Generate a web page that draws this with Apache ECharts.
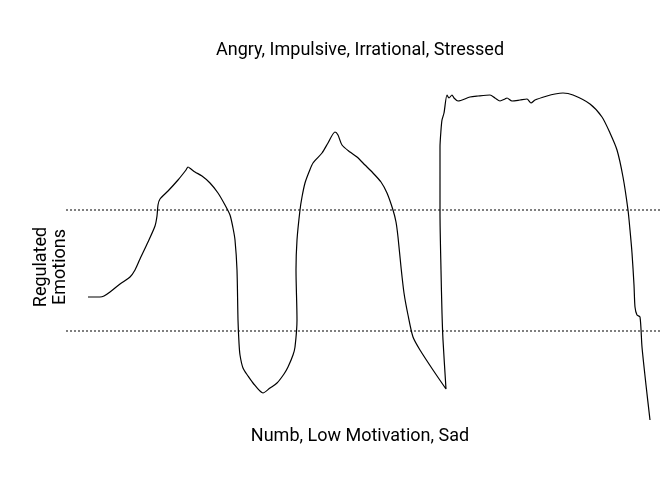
<!DOCTYPE html>
<html>
<head>
<meta charset="UTF-8">
<title>Emotions</title>
<script type="text/javascript" src="https://cdn.jsdelivr.net/npm/echarts@6/dist/echarts.min.js"></script>
<style>
  html, body { margin: 0; padding: 0; background: #fff; }
</style>
</head>
<body>
	<div id="chart" style="width: 667px; height: 478px;"></div>

	<script type="text/javascript">
	// 曲线数据 (时间, 情绪强度)
	var timeVals = [88,100,104,110,120,130,135,140,148,155,157,158,160,168,178,186,188,191,195,202,
		210,218,225,230,233,235,237,238,239,240,243,248,253,263,270,277,284,288,293,295,
		297,296,297,300,302,305,309,313,322,328,335,338,342,350,357,365,373,381,387,393,
		396,398,401,404,408,413,420,433,446,443,442,441,440,440,441,442,444,447,449,452,
		454,458,470,478,490,495,500,505,507,512,520,527,531,535,547,555,563,573,590,602,
		610,617,623,628,630,632,634,635,637,640,642,646,650];
	var levelVals = [181,181,182,186,194,201,208,219,236,252,262,273,279,287,298,308,311,309,306,302,
		295,285,273,263,250,238,208,158,135,123,110,102,95,85,90,95,104,111,123,131,
		158,208,238,268,281,295,306,315,325,335,346,343,333,326,321,313,305,296,285,268,
		256,241,211,185,163,141,128,108,89,138,165,208,265,331,348,358,365,383,380,383,
		380,377,381,382,383,380,377,379,380,377,378,379,375,378,382,384,385,383,374,361,
		345,328,301,268,248,225,193,171,163,161,131,93,58];

	// 两条虚线的位置
	var bandLevels = [268, 147];
	var bandRange = [66, 661];

	var topLabel = 'Angry, Impulsive, Irrational, Stressed';
	var bottomLabel = 'Numb, Low Motivation, Sad';
	var sideLabel = 'Regulated\nEmotions';

	var chart = echarts.init(document.getElementById('chart'));

	var curve = [];
	for (var i = 0; i < timeVals.length; i++) {
		curve.push([timeVals[i], levelVals[i]]);
	}

	var series = [];
	for (var j = 0; j < bandLevels.length; j++) {
		series.push({
			type: 'line',
			data: [[bandRange[0], bandLevels[j]], [bandRange[1], bandLevels[j]]],
			symbol: 'none',
			silent: true,
			lineStyle: { color: '#555', width: 1.5, type: [2, 2] }
		});
	}
	series.push({
		type: 'line',
		data: curve,
		symbol: 'none',
		smooth: 0.25,
		lineStyle: { color: '#000', width: 1.2 }
	});

	var font = '18px Roboto';
	var option = {
		animation: false,
		grid: { left: 0, right: 0, top: 0, bottom: 0 },
		xAxis: { type: 'value', min: 0, max: 667, show: false },
		yAxis: { type: 'value', min: 0, max: 478, show: false },
		graphic: [
			{ type: 'text', x: 360, y: 50, style: { text: topLabel, font: font, fill: '#000', align: 'center', verticalAlign: 'middle' } },
			{ type: 'text', x: 360, y: 436, style: { text: bottomLabel, font: font, fill: '#000', align: 'center', verticalAlign: 'middle' } },
			{ type: 'text', x: 51, y: 267, rotation: Math.PI / 2, style: { text: sideLabel, font: font, lineHeight: 19, fill: '#000', align: 'center', verticalAlign: 'middle' } }
		],
		series: series
	};
	chart.setOption(option);
	</script>
</body>
</html>
